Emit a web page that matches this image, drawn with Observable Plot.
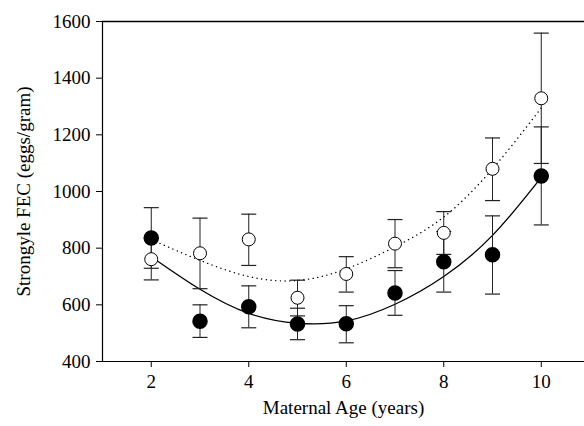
<!DOCTYPE html>
<html>
<head>
<meta charset="utf-8">
<script src="https://cdn.jsdelivr.net/npm/d3@7"></script>
<script src="https://cdn.jsdelivr.net/npm/@observablehq/plot@0.6"></script>
<style>
  html, body { margin: 0; padding: 0; background: #fff; }
  #chart svg { display: block; }
</style>
</head>
<body>
<div id="chart"></div>
<script>
// Maternal age categories
const ages = [2, 3, 4, 5, 6, 7, 8, 9, 10];

// Filled circles: mean and error bar ends
const filledMean = [836, 542, 593, 532, 533, 642, 752, 777, 1055];
const filledLow  = [729, 485, 519, 477, 466, 563, 645, 638, 882];
const filledHigh = [943, 600, 667, 588, 597, 721, 859, 914, 1228];

// Open circles: mean and error bar ends
const openMean = [761, 782, 831, 625, 709, 816, 854, 1080, 1329];
const openLow  = [688, 657, 739, 561, 645, 731, 778, 968, 1099];
const openHigh = [834, 906, 920, 687, 770, 901, 929, 1189, 1559];

// Fitted curves
const solidFit  = [770, 655, 570, 535, 543, 602, 700, 845, 1050];
const dottedFit = [830, 757, 700, 686, 727, 805, 910, 1080, 1295];

const yTicks = [400, 600, 800, 1000, 1200, 1400, 1600];
const xTicks = [2, 4, 6, 8, 10];

const filled = ages.map((a, i) => ({age: a, mean: filledMean[i], lo: filledLow[i], hi: filledHigh[i]}));
const open = ages.map((a, i) => ({age: a, mean: openMean[i], lo: openLow[i], hi: openHigh[i]}));
const solid = ages.map((a, i) => ({age: a, v: solidFit[i]}));
const dotted = ages.map((a, i) => ({age: a, v: dottedFit[i]}));
const all = filled.concat(open);

const cap = {draw(ctx) { ctx.moveTo(-7.5, 0); ctx.lineTo(7.5, 0); }};

const chart = Plot.plot({
  width: 584,
  height: 426,
  marginLeft: 102,
  marginRight: 0,
  marginTop: 21,
  marginBottom: 65,
  style: {fontFamily: "'Liberation Serif', 'Times New Roman', serif", fontSize: "19px", color: "black", background: "white"},
  x: {domain: [1, 10.887]},
  y: {domain: [400, 1600]},
  marks: [
    Plot.axisY({ticks: yTicks, tickFormat: d => String(d), tickSize: 6, tickPadding: 6, fontSize: 19,
      label: "Strongyle FEC (eggs/gram)", labelAnchor: "center", labelArrow: "none", labelOffset: 86}),
    Plot.axisX({ticks: xTicks, tickFormat: d => String(d), tickSize: 6, tickPadding: 7, fontSize: 19,
      label: "Maternal Age (years)", labelAnchor: "center", labelArrow: "none", labelOffset: 52}),
    Plot.ruleY([400], {stroke: "black", strokeWidth: 1.2}),
    Plot.ruleY([1600], {stroke: "black", strokeWidth: 1.5}),
    Plot.ruleX([1], {stroke: "black", strokeWidth: 1.2}),
    Plot.line(dotted, {x: "age", y: "v", curve: "natural", stroke: "black", strokeWidth: 1.4, strokeDasharray: "0.1,4.6", strokeLinecap: "round"}),
    Plot.line(solid, {x: "age", y: "v", curve: "natural", stroke: "black", strokeWidth: 1.3}),
    Plot.ruleX(all, {x: "age", y1: "lo", y2: "hi", stroke: "#222", strokeWidth: 1}),
    Plot.dot(all, {x: "age", y: "lo", symbol: cap, stroke: "#222", strokeWidth: 1.2, fill: "none"}),
    Plot.dot(all, {x: "age", y: "hi", symbol: cap, stroke: "#222", strokeWidth: 1.2, fill: "none"}),
    Plot.dot(filled, {x: "age", y: "mean", r: 7, fill: "black", stroke: "black"}),
    Plot.dot(open, {x: "age", y: "mean", r: 6.5, fill: "white", stroke: "black", strokeWidth: 1})
  ]
});
document.getElementById("chart").appendChild(chart);
</script>
</body>
</html>
